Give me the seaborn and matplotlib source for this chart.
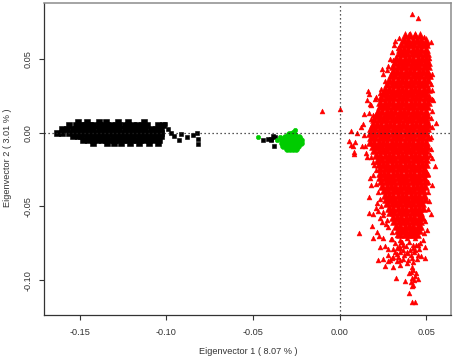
import matplotlib
matplotlib.use("Agg")
import matplotlib.pyplot as plt
import pandas as pd
import seaborn as sns

sns.set_style("white")
plt.rcParams['font.family'] = ['Liberation Sans', 'DejaVu Sans']

# Estimated readings: (PC1, PC2) per group; the dense masses are read row by row.
black_row_y = [0.0075, 0.005, 0.0025, 0.0, -0.0025, -0.005, -0.007]
black_row_x = [
    [-0.151, -0.146, -0.139, -0.135, -0.128, -0.122, -0.113],
    [-0.156, -0.152, -0.149, -0.147, -0.144, -0.142, -0.139, -0.137, -0.134, -0.132, -0.129, -0.127, -0.124, -0.122, -0.119, -0.117, -0.114, -0.111, -0.105, -0.102],
    [-0.160, -0.157, -0.154, -0.152, -0.149, -0.147, -0.144, -0.142, -0.139, -0.137, -0.134, -0.132, -0.129, -0.127, -0.124, -0.122, -0.119, -0.117, -0.114, -0.112, -0.109, -0.106, -0.103],
    [-0.163, -0.160, -0.156, -0.153, -0.151, -0.148, -0.146, -0.143, -0.141, -0.138, -0.136, -0.133, -0.131, -0.128, -0.126, -0.123, -0.121, -0.118, -0.116, -0.113, -0.111, -0.108, -0.106, -0.103],
    [-0.154, -0.151, -0.149, -0.146, -0.144, -0.141, -0.139, -0.136, -0.134, -0.131, -0.129, -0.126, -0.124, -0.121, -0.119, -0.116, -0.114, -0.111, -0.109, -0.106, -0.103],
    [-0.148, -0.145, -0.142, -0.140, -0.137, -0.135, -0.132, -0.130, -0.127, -0.125, -0.122, -0.120, -0.117, -0.115, -0.112, -0.110, -0.107, -0.104],
    [-0.142, -0.134, -0.130, -0.126, -0.121, -0.116, -0.110, -0.105],
]
black_extra_x = [-0.101, -0.099, -0.0971, -0.0956, -0.0917, -0.0927, -0.0879, -0.0846, -0.0823, -0.0818, -0.082,
                 -0.044, -0.0415, -0.0397, -0.0386, -0.0372, -0.0378, -0.0397]
black_extra_y = [0.0057, 0.0023, 0.0, -0.0023, -0.0011, -0.005, -0.0027, -0.0016, -0.0005, -0.0043, -0.0079,
                 -0.0052, -0.0045, -0.004, -0.0023, -0.0027, -0.009, -0.0052]

green_row_y = [-0.001, -0.003, -0.005, -0.007, -0.009, -0.011]
green_row_x = [
    [-0.0295, -0.0278, -0.0262],
    [-0.0318, -0.0302, -0.0285, -0.0268, -0.0252, -0.0236],
    [-0.0330, -0.0312, -0.0295, -0.0278, -0.0260, -0.0243, -0.0226],
    [-0.0332, -0.0315, -0.0298, -0.0280, -0.0263, -0.0246, -0.0225],
    [-0.0325, -0.0308, -0.0290, -0.0272, -0.0255, -0.0238],
    [-0.0302, -0.0285, -0.0268, -0.0250],
]
green_extra_x = [-0.0257, -0.027, -0.0472, -0.0359, -0.0344]
green_extra_y = [0.002, 0.0007, -0.0029, -0.0052, -0.0027]

red_row_y = [0.066, 0.063, 0.060, 0.057, 0.054, 0.051, 0.048, 0.045, 0.042, 0.039, 0.036, 0.033, 0.030,
             0.027, 0.024, 0.021, 0.018, 0.015, 0.012, 0.009, 0.006, 0.003, 0.000, -0.003, -0.006, -0.009,
             -0.012, -0.015, -0.018, -0.021, -0.024, -0.027, -0.030, -0.033, -0.036, -0.039, -0.042, -0.045,
             -0.048, -0.051, -0.054, -0.057, -0.060, -0.063, -0.066, -0.069]
red_row_x = [
    [0.0375, 0.0405, 0.0435, 0.0465],
    [0.0370, 0.0395, 0.0420, 0.0445, 0.0470, 0.0495],
    [0.0355, 0.0380, 0.0405, 0.0430, 0.0455, 0.0480, 0.0500],
    [0.0345, 0.0370, 0.0395, 0.0420, 0.0445, 0.0470, 0.0495],
    [0.0340, 0.0365, 0.0390, 0.0415, 0.0440, 0.0465, 0.0490, 0.0505],
    [0.0325, 0.0350, 0.0375, 0.0400, 0.0425, 0.0450, 0.0475, 0.0500],
    [0.0320, 0.0345, 0.0370, 0.0395, 0.0420, 0.0445, 0.0470, 0.0495, 0.0510],
    [0.0310, 0.0335, 0.0360, 0.0385, 0.0410, 0.0435, 0.0460, 0.0485, 0.0510],
    [0.0305, 0.0330, 0.0355, 0.0380, 0.0405, 0.0430, 0.0455, 0.0480, 0.0505],
    [0.0295, 0.0320, 0.0345, 0.0370, 0.0395, 0.0420, 0.0445, 0.0470, 0.0495, 0.0515],
    [0.0285, 0.0310, 0.0335, 0.0360, 0.0385, 0.0410, 0.0435, 0.0460, 0.0485, 0.0510],
    [0.0275, 0.0300, 0.0325, 0.0350, 0.0375, 0.0400, 0.0425, 0.0450, 0.0475, 0.0500],
    [0.0260, 0.0285, 0.0310, 0.0335, 0.0360, 0.0385, 0.0410, 0.0435, 0.0460, 0.0485, 0.0510],
    [0.0250, 0.0275, 0.0300, 0.0325, 0.0350, 0.0375, 0.0400, 0.0425, 0.0450, 0.0475, 0.0500],
    [0.0240, 0.0265, 0.0290, 0.0315, 0.0340, 0.0365, 0.0390, 0.0415, 0.0440, 0.0465, 0.0490, 0.0515],
    [0.0235, 0.0260, 0.0285, 0.0310, 0.0335, 0.0360, 0.0385, 0.0410, 0.0435, 0.0460, 0.0485, 0.0510],
    [0.0230, 0.0255, 0.0280, 0.0305, 0.0330, 0.0355, 0.0380, 0.0405, 0.0430, 0.0455, 0.0480, 0.0505],
    [0.0220, 0.0245, 0.0270, 0.0295, 0.0320, 0.0345, 0.0370, 0.0395, 0.0420, 0.0445, 0.0470, 0.0495],
    [0.0210, 0.0235, 0.0260, 0.0285, 0.0310, 0.0335, 0.0360, 0.0385, 0.0410, 0.0435, 0.0460, 0.0485, 0.0505],
    [0.0200, 0.0225, 0.0250, 0.0275, 0.0300, 0.0325, 0.0350, 0.0375, 0.0400, 0.0425, 0.0450, 0.0475, 0.0500],
    [0.0190, 0.0215, 0.0240, 0.0265, 0.0290, 0.0315, 0.0340, 0.0365, 0.0390, 0.0415, 0.0440, 0.0465, 0.0490, 0.0510],
    [0.0180, 0.0205, 0.0230, 0.0255, 0.0280, 0.0305, 0.0330, 0.0355, 0.0380, 0.0405, 0.0430, 0.0455, 0.0480, 0.0505],
    [0.0175, 0.0200, 0.0225, 0.0250, 0.0275, 0.0300, 0.0325, 0.0350, 0.0375, 0.0400, 0.0425, 0.0450, 0.0475, 0.0500],
    [0.0180, 0.0205, 0.0230, 0.0255, 0.0280, 0.0305, 0.0330, 0.0355, 0.0380, 0.0405, 0.0430, 0.0455, 0.0480, 0.0510],
    [0.0175, 0.0200, 0.0225, 0.0250, 0.0275, 0.0300, 0.0325, 0.0350, 0.0375, 0.0400, 0.0425, 0.0450, 0.0475, 0.0500],
    [0.0190, 0.0215, 0.0240, 0.0265, 0.0290, 0.0315, 0.0340, 0.0365, 0.0390, 0.0415, 0.0440, 0.0465, 0.0490, 0.0505],
    [0.0200, 0.0225, 0.0250, 0.0275, 0.0300, 0.0325, 0.0350, 0.0375, 0.0400, 0.0425, 0.0450, 0.0475, 0.0500],
    [0.0210, 0.0235, 0.0260, 0.0285, 0.0310, 0.0335, 0.0360, 0.0385, 0.0410, 0.0435, 0.0460, 0.0485, 0.0500],
    [0.0220, 0.0245, 0.0270, 0.0295, 0.0320, 0.0345, 0.0370, 0.0395, 0.0420, 0.0445, 0.0470, 0.0495],
    [0.0225, 0.0250, 0.0275, 0.0300, 0.0325, 0.0350, 0.0375, 0.0400, 0.0425, 0.0450, 0.0475, 0.0500],
    [0.0235, 0.0260, 0.0285, 0.0310, 0.0335, 0.0360, 0.0385, 0.0410, 0.0435, 0.0460, 0.0485],
    [0.0230, 0.0255, 0.0280, 0.0305, 0.0330, 0.0355, 0.0380, 0.0405, 0.0430, 0.0455, 0.0480, 0.0500],
    [0.0235, 0.0260, 0.0285, 0.0310, 0.0335, 0.0360, 0.0385, 0.0410, 0.0435, 0.0460, 0.0485],
    [0.0240, 0.0265, 0.0290, 0.0315, 0.0340, 0.0365, 0.0390, 0.0415, 0.0440, 0.0465, 0.0490],
    [0.0245, 0.0270, 0.0295, 0.0320, 0.0345, 0.0370, 0.0395, 0.0420, 0.0445, 0.0470, 0.0490],
    [0.0255, 0.0280, 0.0305, 0.0330, 0.0355, 0.0380, 0.0405, 0.0430, 0.0455, 0.0480],
    [0.0260, 0.0285, 0.0310, 0.0335, 0.0360, 0.0385, 0.0410, 0.0435, 0.0460, 0.0485],
    [0.0265, 0.0290, 0.0315, 0.0340, 0.0365, 0.0390, 0.0415, 0.0440, 0.0465, 0.0490],
    [0.0275, 0.0300, 0.0325, 0.0350, 0.0375, 0.0400, 0.0425, 0.0450, 0.0475],
    [0.0285, 0.0310, 0.0335, 0.0360, 0.0385, 0.0410, 0.0435, 0.0460, 0.0480],
    [0.0290, 0.0315, 0.0340, 0.0365, 0.0390, 0.0415, 0.0440, 0.0465],
    [0.0305, 0.0330, 0.0355, 0.0380, 0.0405, 0.0430, 0.0455, 0.0475],
    [0.0315, 0.0340, 0.0365, 0.0390, 0.0415, 0.0440, 0.0465],
    [0.0325, 0.0350, 0.0375, 0.0400, 0.0425, 0.0450, 0.0465],
    [0.0335, 0.0360, 0.0385, 0.0410, 0.0435, 0.0455],
    [0.0350, 0.0375, 0.0400, 0.0425, 0.0445],
]
red_extra_x = [0.0415, 0.0453, 0.040, 0.0434, 0.0488, 0.0313, 0.0338, 0.0526, 0.0501, 0.0367, 0.0242, 0.0271,
               0.0515, 0.0309, 0.052, 0.0165, 0.0171, 0.0156, 0.0204, 0.0175, 0.0179, 0.0236, 0.0534, 0.0534,
               -0.0104, 0.0002, 0.014, 0.0169, 0.0555, 0.053, 0.0063, 0.0102, 0.0121, 0.0136, 0.0142, 0.0054,
               0.009, 0.0063, 0.0079, 0.0127, 0.0146, 0.0084, 0.008, 0.015, 0.0156, 0.0182, 0.0194, 0.0213,
               0.0547, 0.0526, 0.053, 0.0175, 0.018, 0.0534, 0.0511, 0.0169, 0.0516, 0.0213, 0.0207, 0.0524,
               0.0171, 0.0194, 0.0248, 0.0244, 0.0265, 0.0184, 0.0501, 0.0113, 0.0217, 0.0228, 0.0194, 0.0252,
               0.0294, 0.0232, 0.0328, 0.0348, 0.0386, 0.0434, 0.0463, 0.049, 0.0453, 0.0424, 0.0367, 0.0348,
               0.0319, 0.028, 0.0309, 0.0338, 0.0367, 0.0396, 0.0415, 0.0447, 0.0467, 0.0493, 0.0223, 0.0248,
               0.029, 0.0261, 0.0309, 0.0348, 0.0386, 0.0415, 0.0411, 0.0323, 0.0376, 0.0415, 0.0434, 0.0453,
               0.0424, 0.0415, 0.0401, 0.0417, 0.0436, 0.0367, 0.0405, 0.0386, 0.0434, 0.0330, 0.0300, 0.0355]
red_extra_y = [0.0805, 0.078, 0.0669, 0.0667, 0.0646, 0.0592, 0.0576, 0.0617, 0.061, 0.0628, 0.0429, 0.0425,
               0.051, 0.0493, 0.0384, 0.0285, 0.0262, 0.0221, 0.0228, 0.0194, 0.0185, 0.0228, 0.0289, 0.0226,
               0.0149, 0.0158, 0.0129, 0.0136, 0.0068, 0.0036, 0.0009, -0.0005, 0.0041, 0.0059, -0.0016, -0.0054,
               -0.0061, -0.0086, -0.009, -0.0088, -0.009, -0.0131, -0.0145, -0.0136, -0.0167, -0.0163, -0.0197, -0.02,
               -0.0226, -0.0111, -0.0174, -0.0307, -0.0352, -0.0355, -0.0332, -0.0438, -0.0461, -0.0479, -0.0513, -0.0551,
               -0.0547, -0.0551, -0.0536, -0.0603, -0.0619, -0.063, -0.066, -0.0682, -0.0676, -0.0698, -0.0712, -0.0712,
               -0.0719, -0.0773, -0.0694, -0.0728, -0.0716, -0.0716, -0.0746, -0.0775, -0.0762, -0.0762, -0.0762, -0.0784,
               -0.0807, -0.0829, -0.0845, -0.0845, -0.0859, -0.0863, -0.0852, -0.0859, -0.0836, -0.0852, -0.0863, -0.0859,
               -0.0863, -0.0904, -0.0908, -0.0897, -0.0886, -0.0908, -0.0942, -0.0983, -0.1006, -0.0988, -0.0972, -0.0992,
               -0.1033, -0.1037, -0.1085, -0.115, -0.115, -0.0795, -0.0795, -0.0815, -0.0795, -0.0780, -0.0850, -0.0740]
# More readings: the lower cluster and both flanks of the red mass.
red_flank_x = [0.030, 0.032, 0.034, 0.036, 0.038, 0.040, 0.042, 0.044, 0.046, 0.048, 0.031, 0.033, 0.035, 0.037, 0.039,
               0.041, 0.043, 0.045, 0.028, 0.026, 0.033, 0.035, 0.028, 0.042, 0.040, 0.042, 0.043, 0.041, 0.044,
               0.022, 0.019, 0.018, 0.024, 0.026, 0.023, 0.021, 0.025, 0.028, 0.029, 0.030, 0.032, 0.034,
               0.021, 0.020, 0.019, 0.021, 0.022, 0.023, 0.024, 0.025, 0.027, 0.028, 0.030, 0.022, 0.0235,
               0.053, 0.0525, 0.053, 0.0525, 0.0525, 0.052, 0.051, 0.051, 0.051, 0.049, 0.0485, 0.054]
red_flank_y = [-0.072, -0.075, -0.077, -0.074, -0.077, -0.074, -0.078, -0.076, -0.079, -0.073, -0.079, -0.082, -0.081, -0.083, -0.081,
               -0.083, -0.081, -0.083, -0.079, -0.077, -0.087, -0.086, -0.087, -0.088, -0.095, -0.093, -0.100, -0.101, -0.095,
               0.012, 0.012, 0.009, 0.030, 0.035, 0.027, 0.024, 0.040, 0.045, 0.050, 0.055, 0.062, 0.064,
               -0.025, -0.022, -0.029, -0.035, -0.040, -0.045, -0.050, -0.056, -0.059, -0.064, -0.067, -0.053, -0.058,
               0.040, 0.033, 0.015, 0.010, -0.003, -0.015, -0.028, -0.040, -0.052, -0.060, -0.068, 0.022]

groups = ["black", "green", "red"]
group_colors = ["#000000", "#00cc00", "#ff0000"]
group_markers = ["s", "o", "^"]
x_ticks = [-0.15, -0.10, -0.05, 0.00, 0.05]
y_ticks = [-0.10, -0.05, 0.00, 0.05]
x_title = "Eigenvector 1 ( 8.07 % )"
y_title = "Eigenvector 2 ( 3.01 % )"


def rows_frame(name, row_y, row_x):
    xs = [v for row in row_x for v in row]
    ys = [y for y, row in zip(row_y, row_x) for _ in row]
    return pd.DataFrame({"pc1": xs, "pc2": ys, "group": name})


def extra_frame(name, extra_x, extra_y):
    return pd.DataFrame({"pc1": extra_x, "pc2": extra_y, "group": name})


dense = pd.concat([
    rows_frame("black", black_row_y, black_row_x),
    rows_frame("green", green_row_y, green_row_x),
    rows_frame("red", red_row_y, red_row_x),
], ignore_index=True)
sparse = pd.concat([
    extra_frame("black", black_extra_x, black_extra_y),
    extra_frame("green", green_extra_x, green_extra_y),
    extra_frame("red", red_extra_x + red_flank_x, red_extra_y + red_flank_y),
], ignore_index=True)

fig = plt.figure(figsize=(4.54, 3.60), dpi=100)
ax = fig.add_axes([43.5 / 454, (360 - 314.5) / 360, (450.7 - 43.5) / 454, (314.5 - 3) / 360])

# Dense-mass readings stand for many overlapping points, so they draw larger.
for name, color, marker, s_dense, s_sparse in zip(groups, group_colors, group_markers,
                                                  [17, 18, 32], [10, 10, 12]):
    for data, size in [(dense, s_dense), (sparse, s_sparse)]:
        sns.scatterplot(data=data[data.group == name], x="pc1", y="pc2", color=color, marker=marker,
                        s=size, linewidth=0.4, edgecolor=color, ax=ax, legend=False, zorder=3)

ax.axhline(0, color="#222222", lw=0.9, ls=(0, (1, 2.2)), zorder=4)
ax.axvline(0, color="#222222", lw=0.9, ls=(0, (1, 2.2)), zorder=4)

ax.set_xlim(-0.1708, 0.064)
ax.set_ylim(-0.1233, 0.088)
ax.set_xticks(x_ticks, [f"{t:.2f}" for t in x_ticks])
ax.set_yticks(y_ticks, [f"{t:.2f}" for t in y_ticks])
ax.tick_params(axis="both", bottom=True, left=True, length=3.5, width=0.8, color="#333333",
               labelsize=6.6, labelcolor="#333333")
ax.tick_params(axis="x", pad=6.5)
ax.tick_params(axis="y", pad=4)
for lab in ax.get_yticklabels():
    lab.set_rotation(90)
    lab.set_va("center")

ax.set_xlabel("")
ax.set_ylabel("")
fig.text(248 / 454, 1 - 352 / 360, x_title, ha="center", va="center", fontsize=6.6, color="#333333")
fig.text(8 / 454, 1 - 158 / 360, y_title, ha="center", va="center", rotation=90, fontsize=6.6, color="#333333")

for side in ["left", "bottom"]:
    ax.spines[side].set_color("#333333")
    ax.spines[side].set_linewidth(0.9)
for side in ["top", "right"]:
    ax.spines[side].set_color("#8c8c8c")
    ax.spines[side].set_linewidth(1.1)

fig.savefig("out.png", dpi=100)
